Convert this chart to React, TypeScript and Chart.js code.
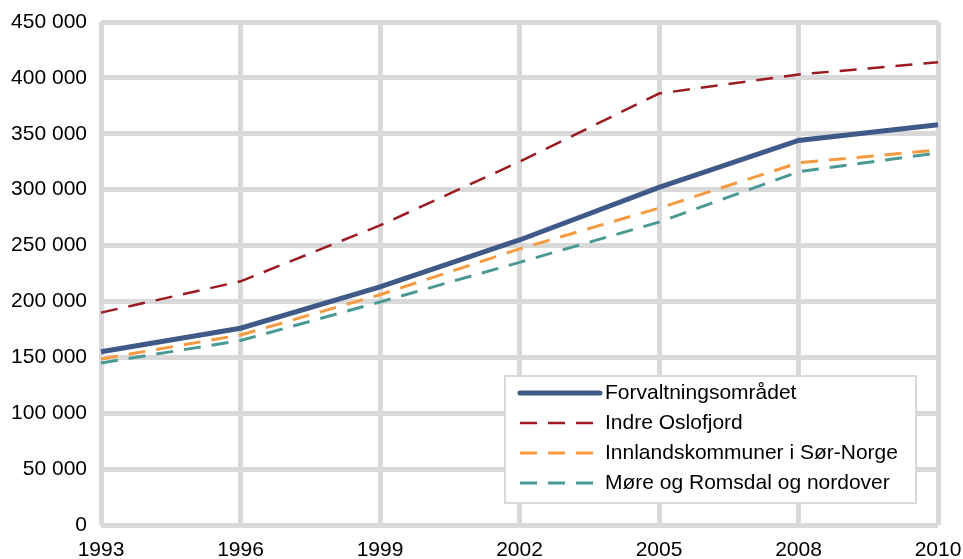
import React, { useEffect, useRef } from "react";
import { Chart, registerables } from "chart.js";

Chart.register(...registerables);

const years = ["1993", "1996", "1999", "2002", "2005", "2008", "2010"];
const forvaltning = [155000, 176000, 213000, 255000, 302000, 344000, 358000];
const indreOslofjord = [190000, 218000, 268000, 325000, 386000, 403000, 414000];
const innland = [148500, 170000, 206000, 247000, 283500, 324000, 335500];
const more = [145000, 165000, 199500, 235000, 271000, 316000, 333000];
const yTicks = [0, 50000, 100000, 150000, 200000, 250000, 300000, 350000, 400000, 450000];

const FONT = "'Liberation Sans', Arial, sans-serif";

const legendPlugin = {
  id: "boxLegend",
  afterDraw(chart: any) {
    const ctx = chart.ctx;
    const x = 505, y = 376, w = 411, h = 127;
    ctx.save();
    ctx.fillStyle = "#ffffff";
    ctx.fillRect(x, y, w, h);
    ctx.strokeStyle = "#d9d9d9";
    ctx.lineWidth = 2;
    ctx.strokeRect(x, y, w, h);
    chart.data.datasets.forEach((ds: any, i: number) => {
      const cy = y + 17 + i * 30;
      ctx.beginPath();
      ctx.strokeStyle = ds.borderColor;
      ctx.lineWidth = ds.borderWidth;
      ctx.lineCap = ds.borderDash ? "butt" : "round";
      ctx.setLineDash(ds.borderDash || []);
      ctx.moveTo(520, cy);
      ctx.lineTo(600, cy);
      ctx.stroke();
      ctx.setLineDash([]);
      ctx.fillStyle = "#000000";
      ctx.font = "21px " + FONT;
      ctx.textBaseline = "middle";
      ctx.textAlign = "left";
      ctx.fillText(ds.label, 605, cy);
    });
    ctx.restore();
  },
};

export default function App() {
  const ref = useRef<HTMLCanvasElement | null>(null);
  useEffect(() => {
    if (!ref.current) return;
    const chart = new Chart(ref.current, {
      type: "line",
      data: {
        labels: years,
        datasets: [
          {
            label: "Forvaltningsområdet",
            data: forvaltning,
            borderColor: "#3f5a88",
            borderWidth: 5,
            pointRadius: 0,
            tension: 0,
          },
          {
            label: "Indre Oslofjord",
            data: indreOslofjord,
            borderColor: "#9b1b21",
            borderWidth: 2.5,
            borderDash: [17, 11],
            pointRadius: 0,
            tension: 0,
          },
          {
            label: "Innlandskommuner i Sør-Norge",
            data: innland,
            borderColor: "#f59a3f",
            borderWidth: 3,
            borderDash: [17, 11],
            pointRadius: 0,
            tension: 0,
          },
          {
            label: "Møre og Romsdal og nordover",
            data: more,
            borderColor: "#4b9995",
            borderWidth: 3,
            borderDash: [17, 11],
            pointRadius: 0,
            tension: 0,
          },
        ],
      } as any,
      options: {
        animation: false,
        responsive: false,
        maintainAspectRatio: false,
        layout: { padding: { top: 22, right: 25, left: 0, bottom: 0 } },
        plugins: { legend: { display: false }, tooltip: { enabled: false } },
        scales: {
          x: {
            type: "category",
            offset: false,
            grid: { color: "#d9d9d9", lineWidth: 5, drawTicks: false },
            border: { display: false },
            ticks: {
              color: "#000000",
              font: { family: FONT, size: 21 },
              padding: 13,
              autoSkip: false,
              maxRotation: 0,
            },
            afterFit(scale: any) {
              scale.height = 34;
              scale.paddingLeft = 0;
              scale.paddingRight = 0;
            },
          },
          y: {
            min: 0,
            max: 450000,
            grid: { color: "#d9d9d9", lineWidth: 5, drawTicks: false },
            border: { display: false },
            afterBuildTicks(scale: any) {
              scale.ticks = yTicks.map((v) => ({ value: v }));
            },
            ticks: {
              color: "#000000",
              font: { family: FONT, size: 21 },
              padding: 14,
              callback: (v: any) =>
                Number(v) === 0
                  ? "0"
                  : String(Number(v)).replace(/\B(?=(\d{3})+(?!\d))/g, " "),
            },
            afterFit(scale: any) {
              scale.width = 101;
              scale.paddingTop = 0;
              scale.paddingBottom = 0;
            },
          },
        },
      } as any,
      plugins: [legendPlugin],
    });
    return () => chart.destroy();
  }, []);
  return (
    <div style={{ position: "fixed", left: 0, top: 0, width: 963, height: 559, background: "#fff" }}>
      <canvas ref={ref} width={963} height={559} style={{ width: 963, height: 559 }} />
    </div>
  );
}
